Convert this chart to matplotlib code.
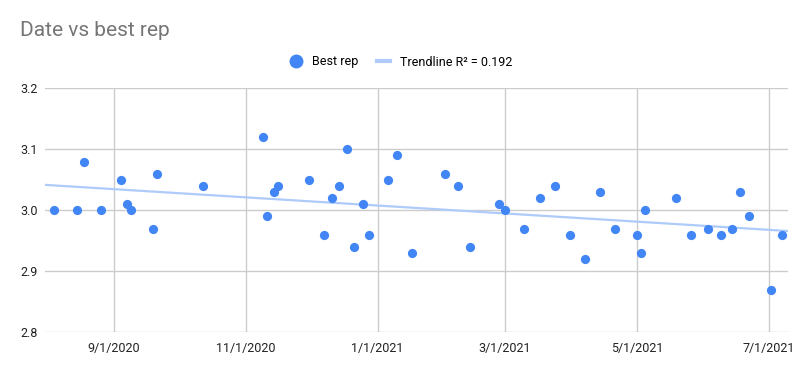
import matplotlib
matplotlib.use("Agg")
import matplotlib.pyplot as plt
import matplotlib.dates as mdates
from matplotlib.lines import Line2D
import numpy as np
import pandas as pd

plt.rcParams['font.family'] = ['Roboto', 'DejaVu Sans']

dates = [
    "2020-08-04", "2020-08-15", "2020-08-18", "2020-08-26", "2020-09-04",
    "2020-09-07", "2020-09-09", "2020-09-19", "2020-09-21", "2020-10-12",
    "2020-11-09", "2020-11-11", "2020-11-14", "2020-11-16", "2020-11-30",
    "2020-12-07", "2020-12-11", "2020-12-14", "2020-12-18", "2020-12-21",
    "2020-12-25", "2020-12-28", "2021-01-06", "2021-01-10", "2021-01-17",
    "2021-02-01", "2021-02-07", "2021-02-13", "2021-02-26", "2021-03-01",
    "2021-03-10", "2021-03-17", "2021-03-24", "2021-03-31", "2021-04-07",
    "2021-04-14", "2021-04-21", "2021-05-01", "2021-05-03", "2021-05-05",
    "2021-05-19", "2021-05-26", "2021-06-03", "2021-06-09", "2021-06-14",
    "2021-06-18", "2021-06-22", "2021-07-02", "2021-07-07",
]
best_rep = [
    3.00, 3.00, 3.08, 3.00, 3.05,
    3.01, 3.00, 2.97, 3.06, 3.04,
    3.12, 2.99, 3.03, 3.04, 3.05,
    2.96, 3.02, 3.04, 3.10, 2.94,
    3.01, 2.96, 3.05, 3.09, 2.93,
    3.06, 3.04, 2.94, 3.01, 3.00,
    2.97, 3.02, 3.04, 2.96, 2.92,
    3.03, 2.97, 2.96, 2.93, 3.00,
    3.02, 2.96, 2.97, 2.96, 2.97,
    3.03, 2.99, 2.87, 2.96,
]
tick_dates = ["2020-09-01", "2020-11-01", "2021-01-01", "2021-03-01", "2021-05-01", "2021-07-01"]
r2_label = "Trendline R² = 0.192"

x = mdates.date2num(pd.to_datetime(dates))
y = np.array(best_rep)

blue = "#4285f4"
trend_col = "#aecbfa"

fig = plt.figure(figsize=(8.07, 3.71), dpi=100)
ax = fig.add_axes([45 / 807, 1 - 332.3 / 371, (788 - 45) / 807, (332.3 - 88.3) / 371])

x0 = mdates.date2num(pd.Timestamp("2020-07-31"))
x1 = mdates.date2num(pd.Timestamp("2021-07-10"))

# linear trendline
slope, icpt = np.polyfit(x, y, 1)
xs = np.array([x0, x1])
ax.plot(xs, slope * xs + icpt, color=trend_col, lw=1.6, zorder=2)

ax.scatter(x, y, s=44, color=blue, zorder=3, linewidths=0)

ax.set_xlim(x0, x1)
ax.set_ylim(2.8, 3.2)
ax.set_yticks([2.8, 2.9, 3.0, 3.1, 3.2])
ax.yaxis.set_major_formatter(plt.FuncFormatter(lambda v, p: f"{v:.1f}"))
ticks = mdates.date2num(pd.to_datetime(tick_dates))
ax.set_xticks(ticks)
ax.set_xticklabels([f"{d.month}/{d.day}/{d.year}" for d in pd.to_datetime(tick_dates)])

ax.grid(True, color="#cccccc", lw=1)
ax.set_axisbelow(True)
for s in ax.spines.values():
    s.set_visible(False)
ax.tick_params(length=0, labelsize=9, colors="#222222", pad=5)
ax.tick_params(axis='x', pad=7)

fig.text(20 / 807, 1 - 31 / 371, "Date vs best rep", fontsize=15, color="#757575", va="center")

handles = [
    Line2D([], [], marker='o', ls='', color=blue, markersize=9),
    Line2D([], [], color=trend_col, lw=3),
]
fig.legend(handles, ["Best rep", r2_label], loc="center", bbox_to_anchor=(401 / 807, 1 - 62 / 371),
           ncol=2, frameon=False, fontsize=9, handlelength=1.0, handletextpad=0.8, columnspacing=1.5)

fig.savefig("out.png", dpi=100)
